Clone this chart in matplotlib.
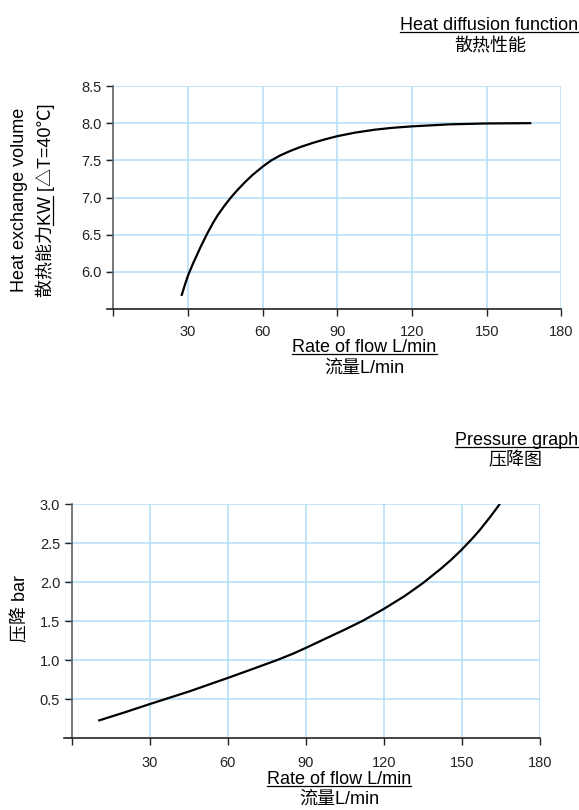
import matplotlib
matplotlib.use("Agg")
import matplotlib.pyplot as plt
from matplotlib.lines import Line2D

plt.rcParams['font.family'] = ['Liberation Sans', 'Noto Sans CJK SC']

# heat diffusion curve: flow (L/min) -> heat exchange (KW)
heat_flow = [27.5, 29, 30, 32, 35, 37.5, 40, 42, 45, 47.5, 50, 53, 56, 60, 63.5, 67, 71, 75, 80,
             85, 90, 97, 105, 112, 120, 135, 150, 167.5]
heat_kw = [5.69, 5.85, 5.95, 6.11, 6.33, 6.50, 6.655, 6.765, 6.905, 7.01, 7.105, 7.21, 7.305, 7.415,
           7.50, 7.565, 7.625, 7.677, 7.733, 7.782, 7.825, 7.872, 7.912, 7.937, 7.957, 7.984, 7.996, 8.0]

# pressure drop curve: flow (L/min) -> bar
press_flow = [10.5, 20, 30, 45, 60, 70, 79, 85, 90, 97, 105, 112, 120, 128, 135, 142, 146, 150,
              154, 157, 161, 164.5]
press_bar = [0.23, 0.33, 0.44, 0.60, 0.775, 0.895, 1.005, 1.085, 1.16, 1.27, 1.395, 1.51, 1.66, 1.825,
             1.99, 2.177, 2.293, 2.421, 2.561, 2.675, 2.843, 3.0]

x_ticks = [0, 30, 60, 90, 120, 150, 180]
x_labels = ['', '30', '60', '90', '120', '150', '180']
heat_ticks = [6.0, 6.5, 7.0, 7.5, 8.0, 8.5]
press_ticks = [0.5, 1.0, 1.5, 2.0, 2.5, 3.0]

W, H = 579, 810
GRID = '#b3ddf5'

fig = plt.figure(figsize=(W / 100, H / 100), dpi=100)


def style_axes(ax, xmin, pad):
    ax.set_xlim(xmin, 180)
    ax.spines['top'].set_visible(False)
    ax.spines['right'].set_visible(False)
    ax.spines['left'].set_position(('data', 0))
    ax.spines['left'].set_color('#666666')
    ax.spines['bottom'].set_color('#222222')
    ax.spines['left'].set_linewidth(1.2)
    ax.spines['bottom'].set_linewidth(1.2)
    ax.set_xticks(x_ticks)
    ax.set_xticklabels(x_labels)
    ax.tick_params(axis='both', direction='out', length=5, width=1, colors='#222222', labelsize=10.5)
    ax.tick_params(axis='x', pad=pad)
    ax.tick_params(axis='y', pad=3.5)
    ax.grid(True, color=GRID, linewidth=1.1, zorder=0)
    ax.set_axisbelow(True)


# top chart
ax1 = fig.add_axes([107.1 / W, 1 - 309 / H, 454.2 / W, 223 / H])
ax1.plot(heat_flow, heat_kw, color='black', lw=1.6)
ax1.set_ylim(5.5, 8.5)
ax1.set_yticks(heat_ticks)
ax1.set_yticklabels([f'{v:.1f}' for v in heat_ticks])
style_axes(ax1, -2.5, 6.5)

# bottom chart
ax2 = fig.add_axes([64.2 / W, 1 - 738.3 / H, 475.5 / W, 233.8 / H])
ax2.plot(press_flow, press_bar, color='black', lw=1.6)
ax2.set_ylim(0, 3.0)
ax2.set_yticks(press_ticks)
ax2.set_yticklabels([f'{v:.1f}' for v in press_ticks])
style_axes(ax2, -3, 7.5)

FS = 13
t1 = fig.text(578 / W, 1 - 30 / H, 'Heat diffusion function', ha='right', va='baseline', fontsize=FS)
fig.text(490 / W, 1 - 47 / H, '散热性能', ha='center', va='center', fontsize=FS)

t2 = fig.text(578 / W, 1 - 445 / H, 'Pressure graph', ha='right', va='baseline', fontsize=FS)
fig.text(515.7 / W, 1 - 460.5 / H, '压降图', ha='center', va='center', fontsize=FS)

t3 = fig.text(364.5 / W, 1 - 352.5 / H, 'Rate of flow L/min', ha='center', va='baseline', fontsize=FS)
fig.text(364 / W, 1 - 368 / H, '流量L/min', ha='center', va='center', fontsize=FS)

t4 = fig.text(339 / W, 1 - 783.5 / H, 'Rate of flow L/min', ha='center', va='baseline', fontsize=FS)
fig.text(339 / W, 1 - 799.5 / H, '流量L/min', ha='center', va='center', fontsize=FS)

fig.text(19.5 / W, 1 - 200 / H, 'Heat exchange volume', rotation=90, ha='center', va='center', fontsize=FS)
yl2 = fig.text(45 / W, 1 - 200 / H, '散热能力KW [△T=40℃]', rotation=90, ha='center', va='center', fontsize=FS)

fig.text(21 / W, 1 - 608 / H, '压降 bar', rotation=90, ha='center', va='center', fontsize=FS)

# underlines
fig.canvas.draw()
r = fig.canvas.get_renderer()


def underline(t, gap=2.0):
    bb = t.get_window_extent(r)
    y = (bb.y0 + gap) / H
    fig.add_artist(Line2D([bb.x0 / W, bb.x1 / W], [y, y], color='black', lw=0.9))


for t in (t1, t2, t3, t4):
    underline(t)

# underline "KW" inside the rotated label
tmp = fig.text(0, 0, '散热能力', fontsize=FS)
w_pre = tmp.get_window_extent(r).width
tmp.remove()
tmp = fig.text(0, 0, '散热能力KW', fontsize=FS)
w_kw = tmp.get_window_extent(r).width
tmp.remove()
bb = yl2.get_window_extent(r)
xu = (bb.x1 - 2.0) / W
fig.add_artist(Line2D([xu, xu], [(bb.y0 + w_pre) / H, (bb.y0 + w_kw) / H], color='black', lw=0.9))

fig.savefig('out.png', dpi=100)
